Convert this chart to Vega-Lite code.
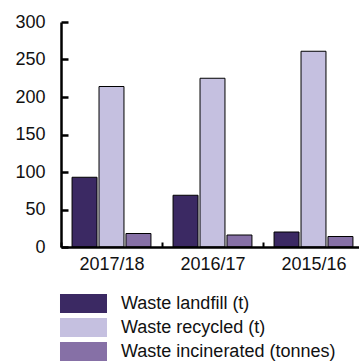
{
  "$schema": "https://vega.github.io/schema/vega-lite/v6.json",
  "width": 298,
  "height": 225,
  "autosize": {"type": "none"},
  "padding": {"left": 61, "top": 22, "right": 0, "bottom": 114},
  "background": "white",
  "config": {
    "view": {"stroke": null},
    "font": "Liberation Sans",
    "axis": {"labelFont": "Liberation Sans", "labelColor": "#111111", "labelFontSize": 18, "grid": false, "title": null, "domainColor": "black", "tickColor": "black", "ticks": true},
    "legend": {"labelFont": "Liberation Sans", "labelColor": "#111111", "labelFontSize": 18, "labelLimit": 400}
  },
  "data": {
    "values": [
      {"year": "2017/18", "series": "Waste landfill (t)", "value": 93},
      {"year": "2017/18", "series": "Waste recycled (t)", "value": 214},
      {"year": "2017/18", "series": "Waste incinerated (tonnes)", "value": 18},
      {"year": "2016/17", "series": "Waste landfill (t)", "value": 69},
      {"year": "2016/17", "series": "Waste recycled (t)", "value": 225},
      {"year": "2016/17", "series": "Waste incinerated (tonnes)", "value": 16},
      {"year": "2015/16", "series": "Waste landfill (t)", "value": 20},
      {"year": "2015/16", "series": "Waste recycled (t)", "value": 261},
      {"year": "2015/16", "series": "Waste incinerated (tonnes)", "value": 14}
    ]
  },
  "mark": {"type": "bar", "stroke": "black", "strokeWidth": 1},
  "encoding": {
    "x": {
      "field": "year",
      "type": "nominal",
      "sort": ["2017/18", "2016/17", "2015/16"],
      "scale": {"range": [0, 303], "paddingInner": 0, "paddingOuter": 0},
      "axis": {"labelAngle": 0, "ticks": true, "tickBand": "extent", "tickSize": -5, "tickWidth": 2, "domainWidth": 2.5, "labelPadding": 13, "zindex": 1}
    },
    "xOffset": {
      "field": "series",
      "sort": ["Waste landfill (t)", "Waste recycled (t)", "Waste incinerated (tonnes)"],
      "scale": {"paddingInner": 0.074, "paddingOuter": 0.41}
    },
    "y": {
      "field": "value",
      "type": "quantitative",
      "scale": {"domain": [0, 300]},
      "axis": {"values": [0, 50, 100, 150, 200, 250, 300], "ticks": true, "tickSize": -7, "tickWidth": 2.5, "domainWidth": 2.5, "labelPadding": 23, "zindex": 1}
    },
    "color": {
      "field": "series",
      "type": "nominal",
      "sort": ["Waste landfill (t)", "Waste recycled (t)", "Waste incinerated (tonnes)"],
      "scale": {"range": ["#3b2963", "#c5c0e0", "#8670a6"]},
      "legend": {"title": null, "orient": "none", "legendX": 13, "legendY": 272, "direction": "vertical", "symbolType": "M-2.474,-1H2.474V1H-2.474Z", "symbolSize": 361, "symbolStrokeWidth": 0, "symbolOpacity": 1, "labelOffset": 28, "rowPadding": 5, "padding": 0, "labelLimit": 400}
    }
  }
}
